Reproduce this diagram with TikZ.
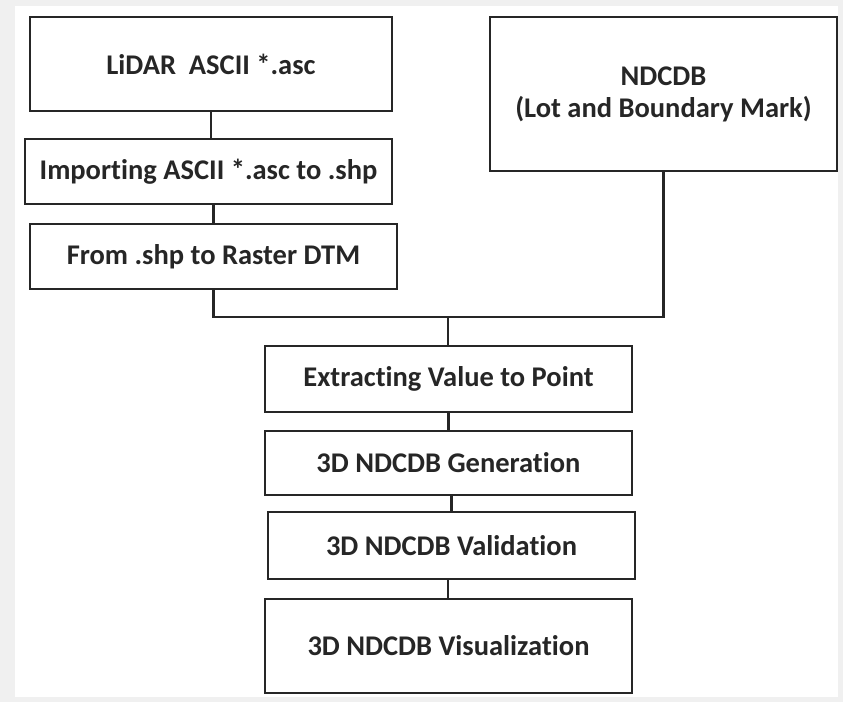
\documentclass[tikz,border=0pt]{standalone}
\usepackage{fontspec}
\setmainfont{Carlito}[Ligatures=NoCommon]
\usepackage{tikz}
\usetikzlibrary{positioning}

\tikzset{
    procbox/.style={draw=black!85, line width=2.8pt, fill=white, align=center,
        inner sep=0pt, font=\fontsize{28.5}{32}\selectfont\bfseries, text=black!85},
    link/.style={draw=black!85, line width=2.8pt},
}

\begin{document}
\begin{tikzpicture}[x=1pt, y=-1pt]
    % page frame
    \fill[black!6] (0,0) rectangle (843,702);
    \fill[white] (15,6) rectangle (838,697);
    \useasboundingbox (0,0) rectangle (843,702);

    % LiDAR branch
    \node[procbox, minimum width=362pt, minimum height=94pt] (lidar) at (211,64) {LiDAR~ ASCII *.asc};
    \node[procbox, minimum width=367pt, minimum height=65pt] (import) at (208.5,171.5) {Importing ASCII *.asc to .shp};
    \node[procbox, minimum width=367pt, minimum height=65pt] (raster) at (213.5,256.5) {From .shp to Raster DTM};

    % cadastral branch
    \node[procbox, minimum width=347pt, minimum height=154pt] (ndcdb) at (663.5,94) {NDCDB\\(Lot and Boundary Mark)};

    % main chain
    \node[procbox, minimum width=367pt, minimum height=66pt] (extract) at (448.5,379) {Extracting Value to Point};
    \node[procbox, minimum width=367pt, minimum height=64pt] (gen) at (448.5,463) {3D NDCDB Generation};
    \node[procbox, minimum width=367pt, minimum height=67pt] (valid) at (451.5,545.5) {3D NDCDB Validation};
    \node[procbox, minimum width=367pt, minimum height=94pt] (visual) at (448.5,646) {3D NDCDB Visualization};

    \coordinate (join) at (448,317);

    % connectors
    \draw[link] (lidar.south) -- (lidar.south |- import.north);
    \draw[link] (raster.north |- import.south) -- (raster.north);
    \draw[link] (raster.south) |- (join) -| (ndcdb.south);
    \draw[link] (join) -- (join |- extract.north);
    \draw[link] (extract.south) -- (extract.south |- gen.north);
    \draw[link] (valid.north |- gen.south) -- (valid.north);
    \draw[link] (join |- valid.south) -- (join |- visual.north);
\end{tikzpicture}
\end{document}
